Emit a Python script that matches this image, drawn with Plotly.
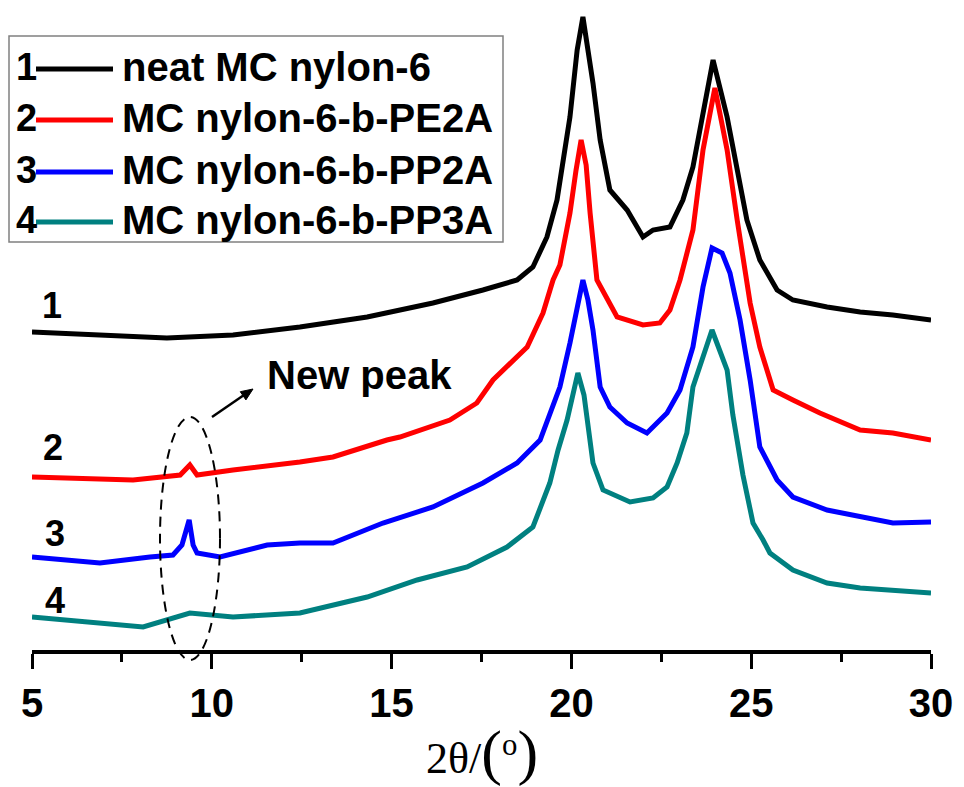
import plotly.graph_objects as go

# ---------------- data ----------------
# 2theta (degrees) and offset intensity (a.u.) for each pattern
x1 = [5.0, 6.89, 8.75, 10.59, 12.45, 14.32, 16.15, 17.54, 18.49, 18.93, 19.32, 19.60,
      19.96, 20.16, 20.32, 20.60, 20.80, 21.07, 21.55, 21.99, 22.27, 22.74, 23.10, 23.38,
      23.66, 23.94, 24.33, 24.69, 24.88, 25.24, 25.72, 26.16, 27.11, 28.03, 28.94, 30.0]
y1 = [318, 315, 312, 315, 323, 333, 347, 360, 370, 383, 413, 450,
      533, 600, 633, 567, 510, 460, 440, 413, 420, 423, 450, 483,
      537, 590, 533, 463, 430, 390, 360, 350, 343, 338, 335, 330]

x2 = [5.0, 7.81, 9.12, 9.39, 9.59, 10.59, 12.45, 13.37, 14.87, 15.23, 16.62, 17.37,
      17.82, 18.77, 19.21, 19.49, 19.68, 19.96, 20.13, 20.27, 20.41, 20.52, 20.71, 21.07,
      21.27, 21.99, 22.46, 22.74, 23.02, 23.38, 23.66, 23.99, 24.33, 24.61, 24.97, 25.24,
      25.61, 26.16, 26.91, 28.03, 28.94, 30.0]
y2 = [173, 170, 175, 185, 175, 180, 188, 193, 210, 213, 230, 247,
      270, 303, 337, 370, 385, 437, 480, 510, 485, 437, 370, 347,
      333, 325, 327, 340, 370, 420, 500, 562, 500, 430, 347, 303,
      260, 250, 237, 220, 217, 210]

x3 = [5.0, 6.89, 8.28, 8.92, 9.17, 9.37, 9.48, 9.59, 10.23, 11.54, 12.45, 13.37, 14.76,
      16.15, 17.54, 18.49, 19.13, 19.49, 19.68, 19.96, 20.16, 20.32, 20.46, 20.60,
      20.80, 21.07, 21.55, 22.10, 22.66, 23.02, 23.38, 23.66, 23.91, 24.19, 24.41,
      24.69, 24.97, 25.24, 25.72, 26.16, 27.11, 28.03, 28.94, 30.0]
y3 = [93, 87, 93, 95, 105, 130, 105, 97, 93, 105, 107, 107, 127,
      143, 167, 187, 210, 243, 263, 307, 340, 370, 350, 320,
      263, 243, 227, 217, 237, 260, 303, 363, 402, 397, 377,
      330, 270, 203, 170, 153, 140, 133, 127, 128]

x4 = [5.0, 8.09, 9.39, 10.59, 12.45, 14.32, 15.71, 17.10, 18.21, 18.93, 19.40, 19.63,
      19.88, 20.18, 20.35, 20.52, 20.60, 20.88, 21.63, 22.27, 22.66, 22.94, 23.21, 23.38,
      23.91, 24.33, 24.49, 24.77, 25.05, 25.33, 25.52, 26.16, 27.11, 28.03, 28.94, 30.0]
y4 = [33, 23, 37, 33, 37, 53, 70, 83, 103, 123, 167, 200,
      230, 277, 255, 210, 187, 160, 148, 152, 163, 187, 217, 263,
      320, 280, 235, 175, 127, 110, 97, 80, 67, 62, 60, 57]

series_names = ["neat MC nylon-6", "MC nylon-6-b-PE2A", "MC nylon-6-b-PP2A", "MC nylon-6-b-PP3A"]
series_ids = ["1", "2", "3", "4"]
colors = ["#000000", "#ff0000", "#0000ff", "#008080"]
xs = [x1, x2, x3, x4]
ys = [y1, y2, y3, y4]

tick_vals = [5, 10, 15, 20, 25, 30]

# ---------------- figure ----------------
SANS = "Liberation Sans, Arial, sans-serif"
SERIF = "Liberation Serif, Times New Roman, serif"

fig = go.Figure()
for xv, yv, c, n in zip(xs, ys, colors, series_names):
    fig.add_trace(go.Scatter(x=xv, y=yv, mode="lines", name=n,
                             line=dict(color=c, width=5), showlegend=False))

# curve number labels
label_pos = [(5.56, 345), (5.58, 203), (5.64, 117), (5.64, 50)]
for sid, (lx, ly) in zip(series_ids, label_pos):
    fig.add_annotation(x=lx, y=ly, text=sid, showarrow=False,
                       font=dict(family=SANS, size=36, color="black", weight="bold"),
                       xanchor="center", yanchor="middle")

# helpers: pixel position -> paper fraction (plot area 32..931 x 10..650)
W, H = 899.0, 640.0
def px(xp):
    return (xp - 32) / W
def py(yp):
    return (650 - yp) / H

# manual legend (box + number + line sample + text)
fig.add_shape(type="rect", xref="paper", yref="paper",
              x0=px(9), x1=px(503), y0=py(242), y1=py(36),
              line=dict(color="#808080", width=1.5), fillcolor="white", layer="above")
rows = [67, 118, 170, 220]
for sid, n, c, r in zip(series_ids, series_names, colors, rows):
    fig.add_shape(type="line", xref="paper", yref="paper",
                  x0=px(36), x1=px(113), y0=py(r + 2), y1=py(r + 2),
                  line=dict(color=c, width=5), layer="above")
    fig.add_annotation(xref="paper", yref="paper", x=px(26), y=py(r), text=sid,
                       showarrow=False, xanchor="center", yanchor="middle",
                       font=dict(family=SANS, size=38, color="black", weight="bold"))
    fig.add_annotation(xref="paper", yref="paper", x=px(120), y=py(r), text=n,
                       showarrow=False, xanchor="left", yanchor="middle",
                       font=dict(family=SANS, size=40, color="black", weight="bold"))

# "New peak" label
fig.add_annotation(x=11.48, y=275, text="New peak", showarrow=False,
                   xanchor="left", yanchor="middle",
                   font=dict(family=SANS, size=40, color="black", weight="bold"))

# arrow drawn as a line plus a filled head
fig.add_shape(type="line", xref="paper", yref="paper",
              x0=px(212), y0=py(417), x1=px(244), y1=py(395),
              line=dict(color="black", width=2.5), layer="above")
head = [(253, 389), (245.9, 399.9), (240.3, 391.7)]
path = "M {} {} L {} {} L {} {} Z".format(*[v for p in head for v in (px(p[0]), py(p[1]))])
fig.add_shape(type="path", xref="paper", yref="paper", path=path,
              fillcolor="black", line=dict(color="black", width=1), layer="above")

# dashed ellipse round the new peak
fig.add_shape(type="circle", xref="paper", yref="paper",
              x0=px(160), x1=px(220), y0=py(660), y1=py(417),
              line=dict(color="black", width=2, dash="10px,7px"), layer="above")

# axis title
fig.add_annotation(xref="paper", yref="paper", x=0.5, y=py(752),
                   text="2θ/<span style='font-size:62px'>(</span><sup>o</sup><span style='font-size:62px'>)</span>",
                   showarrow=False, xanchor="center", yanchor="middle",
                   font=dict(family=SERIF, size=44, color="black"))

fig.update_xaxes(range=[5, 30], tickmode="array", tickvals=tick_vals,
                 ticktext=[str(t) for t in tick_vals],
                 showline=True, linecolor="black", linewidth=4,
                 ticks="outside", ticklen=15, tickwidth=3, tickcolor="black",
                 minor=dict(tickmode="array", tickvals=[7.5, 12.5, 17.5, 22.5, 27.5],
                            ticks="outside", ticklen=8, tickwidth=3, tickcolor="black"),
                 showgrid=False, zeroline=False,
                 tickfont=dict(family=SANS, size=40, color="black", weight="bold"))
fig.update_yaxes(range=[0, 640], visible=False, showgrid=False, zeroline=False)

fig.update_layout(width=964, height=787, plot_bgcolor="white", paper_bgcolor="white",
                  margin=dict(l=32, r=33, t=10, b=137), showlegend=False)

fig.write_html("out.html")
